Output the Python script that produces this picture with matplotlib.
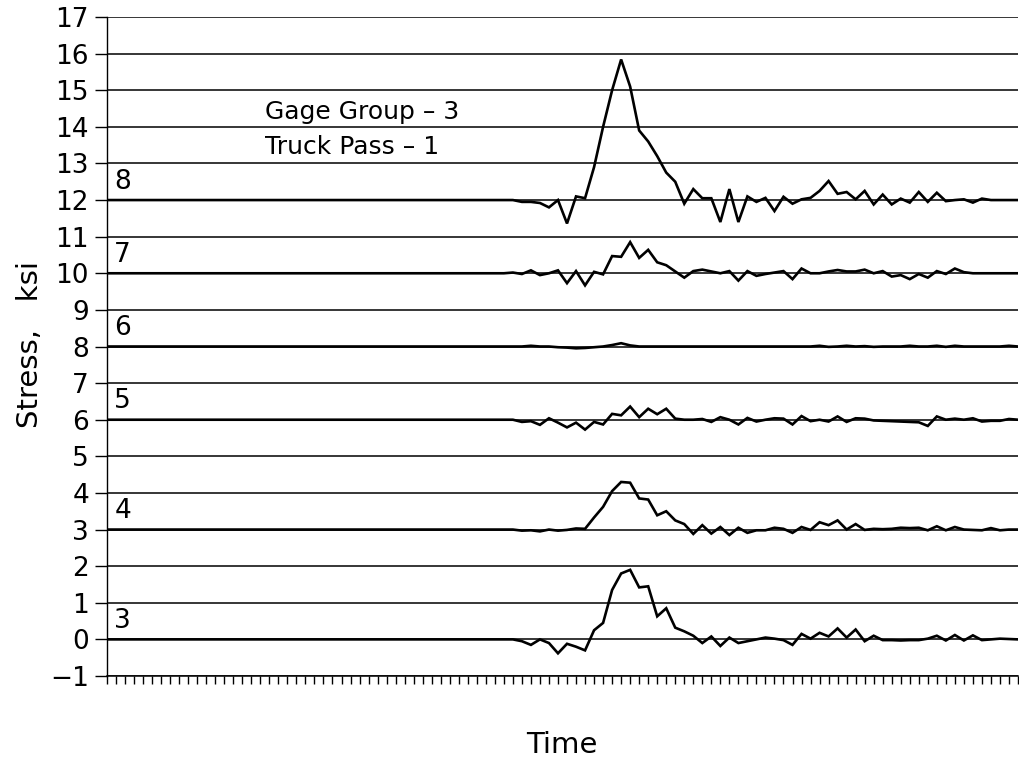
import matplotlib
matplotlib.use('Agg')
import matplotlib.pyplot as plt
import numpy as np

# time index of each sample; the first 45 samples are quiet for every gage
n_quiet = 45
time = np.arange(0, 102)

# readings (ksi) from sample 45 onward, one list per gage
gage8 = [12.0, 11.95, 11.95, 11.92, 11.8, 12.0, 11.36, 12.1, 12.05, 12.9,
         14.0, 15.0, 15.84, 15.1, 13.9, 13.6, 13.2, 12.75, 12.5, 11.9,
         12.3, 12.05, 12.05, 11.4, 12.3, 11.4, 12.1, 11.95, 12.06, 11.7,
         12.09, 11.9, 12.02, 12.06, 12.25, 12.52, 12.17, 12.22, 12.02, 12.25,
         11.88, 12.15, 11.88, 12.04, 11.93, 12.22, 11.95, 12.2, 11.97, 12.0,
         12.02, 11.93, 12.04, 12.0, 12.0, 12.0, 12.0]
gage7 = [10.02, 9.98, 10.08, 9.95, 10.0, 10.08, 9.73, 10.06, 9.67, 10.04,
         9.97, 10.47, 10.45, 10.85, 10.42, 10.64, 10.3, 10.22, 10.05, 9.88,
         10.06, 10.1, 10.05, 10.0, 10.06, 9.8, 10.06, 9.93, 9.98, 10.02,
         10.06, 9.84, 10.13, 10.0, 10.0, 10.05, 10.09, 10.05, 10.05, 10.1,
         10.0, 10.06, 9.91, 9.95, 9.84, 9.98, 9.88, 10.06, 9.98, 10.13,
         10.03, 10.0, 10.0, 10.0, 10.0, 10.0, 10.0]
gage6 = [8.0, 8.0, 8.02, 8.0, 8.0, 7.98, 7.97, 7.95, 7.96, 7.98,
         8.0, 8.04, 8.09, 8.03, 8.0, 8.0, 8.0, 8.0, 8.0, 8.0,
         8.0, 8.0, 8.0, 8.0, 8.0, 8.0, 8.0, 8.0, 8.0, 8.0,
         8.0, 8.0, 8.0, 8.0, 8.02, 7.99, 8.0, 8.02, 8.0, 8.01,
         7.99, 8.0, 8.0, 8.0, 8.02, 8.0, 8.0, 8.02, 7.99, 8.02,
         8.0, 8.0, 8.0, 8.0, 8.0, 8.02, 8.0]
gage5 = [6.0, 5.94, 5.96, 5.86, 6.04, 5.92, 5.79, 5.92, 5.73, 5.94,
         5.87, 6.16, 6.12, 6.36, 6.07, 6.3, 6.15, 6.3, 6.03, 6.0,
         6.0, 6.02, 5.94, 6.07, 6.0, 5.87, 6.05, 5.95, 6.0, 6.04,
         6.03, 5.87, 6.1, 5.96, 6.0, 5.95, 6.09, 5.94, 6.04, 6.03,
         5.98, 5.97, 5.96, 5.95, 5.94, 5.93, 5.83, 6.09, 6.0, 6.03,
         6.0, 6.04, 5.95, 5.97, 5.97, 6.02, 6.0]
gage4 = [3.0, 2.97, 2.98, 2.95, 3.0, 2.97, 2.99, 3.03, 3.02, 3.33,
         3.62, 4.05, 4.3, 4.28, 3.85, 3.82, 3.39, 3.5, 3.25, 3.15,
         2.88, 3.12, 2.89, 3.07, 2.85, 3.05, 2.91, 2.98, 2.98, 3.05,
         3.02, 2.91, 3.07, 2.99, 3.2, 3.12, 3.25, 3.0, 3.15, 2.99,
         3.02, 3.01, 3.02, 3.05, 3.04, 3.05, 2.98, 3.09, 2.98, 3.07,
         3.0, 2.99, 2.98, 3.04, 2.98, 3.0, 3.0]
gage3 = [0.0, -0.05, -0.15, 0.0, -0.1, -0.38, -0.12, -0.2, -0.3, 0.25,
         0.45, 1.35, 1.8, 1.9, 1.42, 1.45, 0.63, 0.85, 0.32, 0.22,
         0.1, -0.1, 0.08, -0.18, 0.05, -0.1, -0.05, 0.0, 0.05, 0.02,
         -0.02, -0.15, 0.15, 0.02, 0.18, 0.08, 0.3, 0.05, 0.27, -0.05,
         0.1, -0.02, -0.02, -0.03, -0.02, -0.02, 0.02, 0.1, -0.03, 0.12,
         -0.03, 0.11, -0.02, 0.0, 0.02, 0.01, 0.0]

gage_names = ['8', '7', '6', '5', '4', '3']
baselines = [12, 10, 8, 6, 3, 0]
readings = [gage8, gage7, gage6, gage5, gage4, gage3]

fig = plt.figure(figsize=(10.2, 7.61), dpi=100)
ax = fig.add_axes([107 / 1020, 1 - 676 / 761, 911 / 1020, 659 / 761])

for name, base, vals in zip(gage_names, baselines, readings):
    y = np.concatenate([np.full(n_quiet, base), vals])
    ax.plot(time, y, color='black', lw=1.9, solid_joinstyle='miter')
    ax.text(0.8, base + 0.5, name, fontsize=19, va='center', ha='left')

ax.set_ylim(-1, 17)
ax.set_xlim(0, 101)
ax.set_yticks(range(-1, 18))
ax.set_yticklabels([str(v).replace('-', '\u2212') for v in range(-1, 18)], fontsize=19)
ax.set_xticks(time)
ax.set_xticklabels([])
ax.tick_params(axis='y', direction='out', length=9, width=1, pad=4)
ax.tick_params(axis='x', direction='out', length=6, width=1)
ax.grid(axis='y', color='black', lw=1.1)
ax.set_axisbelow(True)
for s in ['top', 'right']:
    ax.spines[s].set_visible(False)
ax.spines['left'].set_linewidth(1.0)
ax.spines['bottom'].set_linewidth(1.1)

ax.text(17.5, 14.4, 'Gage Group \u2013 3', fontsize=18, va='center')
ax.text(17.5, 13.45, 'Truck Pass \u2013 1', fontsize=18, va='center')

fig.text(30 / 1020, 1 - 345 / 761, 'Stress,   ksi', rotation=90, fontsize=21,
         ha='center', va='center')
fig.text(562 / 1020, 1 - 745 / 761, 'Time', fontsize=21, ha='center', va='center')

plt.savefig('out.png', dpi=100)
